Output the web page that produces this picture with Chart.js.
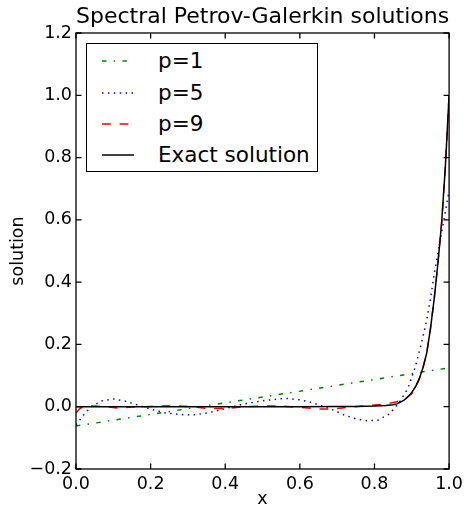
<!DOCTYPE html>
<html>
<head>
<meta charset="utf-8">
<script src="https://cdn.jsdelivr.net/npm/chart.js@4.4.1/dist/chart.umd.min.js"></script>
<style>
  body { margin: 0; background: #fff; }
  #wrap { position: relative; width: 468px; height: 510px; }
  #legend {
    position: absolute; left: 86px; top: 43px; width: 230px; height: 127px;
    border: 1.3px solid #000; background: #fff;
    font-family: 'DejaVu Sans', sans-serif; font-size: 21.5px; color: #000;
  }
  #legend .row { position: absolute; left: 0; height: 30px; width: 100%; }
  #legend svg { position: absolute; left: 15px; top: 0; }
  #legend span { position: absolute; left: 71px; top: 2px; line-height: 26px; white-space: nowrap; }
</style>
</head>
<body>
<div id="wrap">
  <canvas id="chart" width="468" height="510"></canvas>
  <div id="legend"></div>
</div>
<script>
// ─── Data ────────────────────────────────────────────────────────────────────
const xTicks = [0, 0.2, 0.4, 0.6, 0.8, 1.0];
const xTickLabels = ['0.0', '0.2', '0.4', '0.6', '0.8', '1.0'];
const yTicks = [-0.2, 0, 0.2, 0.4, 0.6, 0.8, 1.0, 1.2];
const yTickLabels = ['\u22120.2', '0.0', '0.2', '0.4', '0.6', '0.8', '1.0', '1.2'];

// p=1 (straight line)
const p1X = [0, 0.5, 1.0];
const p1Y = [-0.062, 0.031, 0.125];

// p=5
const p5X = [0, 0.01, 0.02, 0.04, 0.07, 0.1, 0.135, 0.167, 0.2, 0.24, 0.29, 0.32, 0.36, 0.4, 0.45,
             0.5, 0.56, 0.6, 0.63, 0.66, 0.69, 0.72, 0.75, 0.78, 0.81, 0.84, 0.865, 0.89, 0.91,
             0.925, 0.94, 0.95, 0.96, 0.97, 0.98, 0.99, 1.0];
const p5Y = [-0.058, -0.043, -0.027, 0.0, 0.019, 0.025, 0.017, 0.005, -0.008, -0.02, -0.026, -0.026,
             -0.018, -0.006, 0.009, 0.019, 0.027, 0.022, 0.014, 0.002, -0.011, -0.027, -0.039, -0.045,
             -0.043, -0.023, 0.011, 0.06, 0.13, 0.2, 0.278, 0.345, 0.425, 0.493, 0.56, 0.625, 0.695];

// p=9
const p9X = [0, 0.01, 0.02, 0.05, 0.08, 0.11, 0.15, 0.2, 0.25, 0.3, 0.35, 0.4, 0.45, 0.5, 0.55, 0.6,
             0.65, 0.69, 0.73, 0.78, 0.83, 0.86, 0.88, 0.9, 0.91, 0.92, 0.93, 0.94, 0.95, 0.96, 0.97,
             0.98, 0.99, 1.0];
const p9Y = [-0.02, -0.006, 0.0, 0.002, 0.0, -0.004, -0.001, 0.001, 0.003, 0.001, -0.005, -0.006, 0.0,
             0.002, 0.002, -0.002, -0.007, -0.007, -0.002, 0.003, 0.009, 0.016, 0.024, 0.042, 0.062,
             0.088, 0.125, 0.172, 0.25, 0.345, 0.46, 0.59, 0.77, 1.0];

// exact solution
const exactX = [0, 0.1, 0.2, 0.3, 0.4, 0.5, 0.6, 0.7, 0.75, 0.8, 0.83, 0.85, 0.86, 0.87, 0.88, 0.89,
                0.9, 0.91, 0.92, 0.93, 0.94, 0.95, 0.96, 0.97, 0.98, 0.99, 1.0];
const exactY = [0, 0, 0, 0, 0, 0, 0, 0.0003, 0.001, 0.002, 0.004, 0.006, 0.009, 0.015, 0.022, 0.032,
                0.046, 0.064, 0.09, 0.125, 0.172, 0.25, 0.345, 0.46, 0.59, 0.77, 1.0];

const FONT = "'DejaVu Sans', sans-serif";
const pts = (xs, ys) => xs.map((x, i) => ({ x, y: ys[i] }));

const series = [
    { label: 'p=1', x: p1X, y: p1Y, color: '#008000', dash: [4.4, 7.3, 1.5, 7.3], order: 3 },
    { label: 'p=5', x: p5X, y: p5Y, color: '#0000ff', dash: [1.5, 4.4], order: 2 },
    { label: 'p=9', x: p9X, y: p9Y, color: '#ff0000', dash: [8.8, 8.8], order: 1 },
    { label: 'Exact solution', x: exactX, y: exactY, color: '#000000', dash: [], order: 0 }
];

// ─── Frame with inward ticks on all four sides ───────────────────────────────
const frameTicks = {
    id: 'frameTicks',
    afterDatasetsDraw(chart) {
        const { ctx, chartArea: a, scales: { x, y } } = chart;
        const len = 5.5;
        ctx.save();
        ctx.strokeStyle = '#000';
        ctx.lineWidth = 1.3;
        ctx.setLineDash([]);
        ctx.strokeRect(a.left, a.top, a.right - a.left, a.bottom - a.top);
        ctx.beginPath();
        xTicks.forEach(v => {
            const px = x.getPixelForValue(v);
            ctx.moveTo(px, a.bottom); ctx.lineTo(px, a.bottom - len);
            ctx.moveTo(px, a.top); ctx.lineTo(px, a.top + len);
        });
        yTicks.forEach(v => {
            const py = y.getPixelForValue(v);
            ctx.moveTo(a.left, py); ctx.lineTo(a.left + len, py);
            ctx.moveTo(a.right, py); ctx.lineTo(a.right - len, py);
        });
        ctx.stroke();
        ctx.restore();
    }
};

const chart = new Chart(document.getElementById('chart'), {
    type: 'line',
    data: {
        datasets: series.map(s => ({
            label: s.label,
            data: pts(s.x, s.y),
            borderColor: s.color,
            borderDash: s.dash,
            borderWidth: 1.5,
            borderCapStyle: 'butt',
            pointRadius: 0,
            tension: 0,
            fill: false,
            order: s.order
        }))
    },
    options: {
        responsive: false,
        animation: false,
        devicePixelRatio: 1,
        layout: { padding: { left: 0, right: 18, top: 0, bottom: 0 } },
        plugins: {
            legend: { display: false },
            tooltip: { enabled: false },
            title: {
                display: true,
                fullSize: false,
                text: 'Spectral Petrov-Galerkin solutions',
                color: '#000',
                font: { family: FONT, size: 22, weight: 'normal', lineHeight: 1.2 },
                padding: { top: 4, bottom: 2.6 }
            }
        },
        scales: {
            x: {
                type: 'linear',
                min: 0, max: 1,
                afterFit: s => { s.height = 41; },
                afterBuildTicks: s => { s.ticks = xTicks.map(v => ({ value: v })); },
                grid: { display: false, drawTicks: false },
                border: { display: false },
                ticks: {
                    color: '#000', padding: 5, maxRotation: 0, autoSkip: false,
                    font: { family: FONT, size: 17.5 },
                    callback: (v, i) => xTickLabels[i]
                },
                title: {
                    display: true, text: 'x', color: '#000',
                    font: { family: FONT, size: 17.5 },
                    padding: { top: 0, bottom: 0 }
                }
            },
            y: {
                type: 'linear',
                min: -0.2, max: 1.2,
                afterFit: s => { s.width = 76; },
                afterBuildTicks: s => { s.ticks = yTicks.map(v => ({ value: v })); },
                grid: { display: false, drawTicks: false },
                border: { display: false },
                ticks: {
                    color: '#000', padding: 4, autoSkip: false,
                    font: { family: FONT, size: 17.5 },
                    callback: (v, i) => yTickLabels[i]
                },
                title: {
                    display: true, text: 'solution', color: '#000',
                    font: { family: FONT, size: 17.5 },
                    padding: { top: 8, bottom: 0 }
                }
            }
        }
    },
    plugins: [frameTicks]
});

// ─── Legend (HTML overlay, upper left of the axes) ───────────────────────────
const legendEl = document.getElementById('legend');
const rowTops = [2, 33.5, 65, 96];
series.forEach((s, i) => {
    const row = document.createElement('div');
    row.className = 'row';
    row.style.top = rowTops[i] + 'px';
    row.innerHTML =
        `<svg width="32" height="30"><line x1="0" y1="15" x2="32" y2="15" stroke="${s.color}" ` +
        `stroke-width="1.5" stroke-dasharray="${s.dash.length ? s.dash.join(' ') : 'none'}"/></svg>` +
        `<span>${s.label}</span>`;
    legendEl.appendChild(row);
});
</script>
</body>
</html>
